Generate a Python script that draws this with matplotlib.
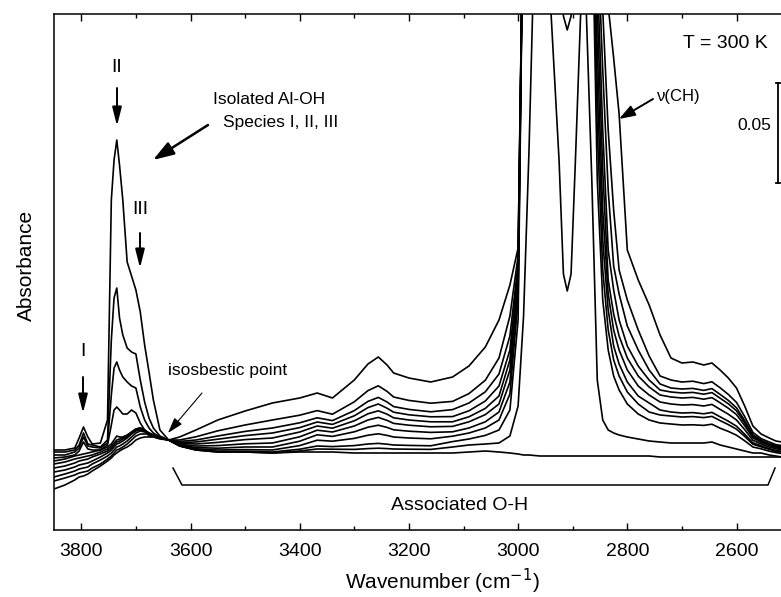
import numpy as np
import matplotlib
matplotlib.use("Agg")
import matplotlib.pyplot as plt
from matplotlib.ticker import MultipleLocator

plt.rcParams['font.family'] = ['Liberation Sans', 'DejaVu Sans']

# Shared wavenumber grid (cm-1)
wavenumber = [
    3850, 3830, 3812, 3804, 3796, 3788, 3780, 3765, 3752, 3745, 3740, 3735,
    3730, 3724, 3716, 3708, 3700, 3692, 3684, 3676, 3668, 3656, 3640,
    3620, 3590, 3550, 3500, 3450, 3400, 3368, 3340, 3300, 3275, 3256, 3240,
    3228, 3200, 3160, 3120, 3090, 3060, 3035, 3015,
    3000, 2990, 2980, 2960, 2940, 2925, 2917, 2910, 2903, 2895, 2880, 2865,
    2855, 2845, 2835, 2825, 2815,
    2800, 2780, 2760, 2740, 2720, 2700, 2680, 2660, 2645, 2630, 2615, 2600,
    2585, 2570, 2555, 2540, 2528, 2517,
]

# Spectra in milli-absorbance units (values above the frame are off scale)
spectrum_00 = [
    40, 40, 41, 46, 51.5, 46.5, 43, 43.5, 55, 165, 185, 195,
    182.5, 165, 134, 127, 120, 109, 92.5, 79, 65, 50, 45,
    42, 40, 39, 39, 38.5, 39, 39, 39, 38.5, 38.5, 38.5, 38.5,
    38.5, 38.5, 38.5, 38.5, 39, 39.5, 39, 38.5,
    38, 37.5, 37.5, 37, 37, 37, 37, 37, 37, 37, 37, 37,
    37, 37, 37, 37, 37,
    37, 37, 37, 36.5, 36.5, 36.5, 36.5, 36.5, 36.5, 36.5, 36.5, 36.5,
    36.5, 36.5, 36.5, 36.5, 36.5, 36.5,
]
spectrum_01 = [
    39, 39, 40, 42.5, 48.5, 43, 42.5, 41.5, 45, 95, 116, 121,
    106, 97.5, 91, 89, 88, 75, 64, 56, 51, 47, 45,
    42, 40, 39, 39, 38.5, 39.5, 40.5, 40.4, 40.3, 40.7, 40.9, 40.7,
    40.5, 40.4, 40.3, 41.5, 42.5, 43, 43.5, 47,
    62, 107, 190, 400, 260, 185, 128, 119.5, 128, 185, 300, 175,
    75, 55, 50, 48.5, 47.5,
    46.5, 45.5, 44.5, 44, 43.5, 43.5, 43.5, 43.5, 44, 42.5, 41.5, 40.5,
    39.5, 38.5, 38.5, 37.5, 37, 36.5,
]
spectrum_02 = [
    37.5, 37.5, 39, 41, 46.5, 42, 41.5, 41, 43.5, 67.5, 81, 84,
    80, 76.5, 74, 72, 71, 61.5, 55, 51, 48.5, 46.5, 45,
    42.1, 40.2, 39.3, 39.4, 39, 40.4, 42, 41.7, 42.2, 43, 43.3, 42.9,
    42.5, 42.3, 42.1, 44.2, 45.5, 47.3, 50, 60,
    105, 330, 420, 440, 420, 330, 257, 250, 257, 330, 420, 320,
    175, 115, 90, 77, 70,
    63, 58, 55, 53.5, 53, 52.5, 52.6, 52.3, 52.9, 50.9, 49.3, 47.4,
    44.6, 41.5, 40.6, 39.4, 38.7, 38.2,
]
spectrum_03 = [
    36, 36.5, 37.5, 39.5, 44, 40.5, 40, 40, 42.5, 52.5, 60, 61.5,
    60, 58, 58, 60, 58.5, 53.5, 50, 47, 46.5, 46, 45,
    42.3, 40.6, 40, 40.2, 40, 42.2, 44.9, 44.4, 45.8, 47.4, 48.1, 47.3,
    46.5, 46, 45.6, 46.9, 48.5, 51, 55, 68,
    115, 330, 440, 450, 450, 450, 450, 450, 450, 450, 450, 330,
    200, 130, 100, 85, 77,
    69, 63, 59, 57.5, 57, 56.5, 56.7, 56.2, 56.8, 54.7, 52.7, 50.4,
    46.8, 42.9, 41.6, 40.3, 39.4, 38.9,
]
spectrum_04 = [
    34.5, 35.5, 37, 37.5, 38, 38.5, 39, 40, 41.5, 43, 45, 47,
    46.5, 46.5, 47.5, 49, 50.5, 51, 50, 48, 47, 46, 45,
    42.5, 41.2, 40.9, 41.5, 41.5, 44.4, 47.6, 46.8, 49.1, 51.4, 52.4, 51.3,
    50.1, 49.4, 48.8, 49.1, 51, 54.1, 59, 74,
    120, 330, 450, 450, 450, 450, 450, 450, 450, 450, 450, 340,
    220, 145, 110, 92, 83,
    74, 67, 63.5, 60, 59, 58.5, 58.7, 58.1, 58.8, 56.6, 54.4, 51.9,
    47.9, 43.6, 42.1, 40.7, 39.8, 39.3,
]
spectrum_05 = [
    33, 34, 35.5, 36, 36.5, 37, 37.5, 39, 40.5, 42, 43.5, 45,
    45.5, 46, 47, 49, 50.5, 51, 50, 48, 47, 46, 45,
    42.9, 42, 42.2, 43.1, 43.5, 46.6, 49.9, 49, 52, 55, 56.3, 54.8,
    53.3, 52.4, 51.6, 51.8, 54.1, 57.7, 63, 80,
    124, 330, 450, 450, 450, 450, 450, 450, 450, 450, 450, 350,
    240, 160, 118, 100, 90,
    80, 72, 67.5, 64, 63, 62.5, 62.7, 62, 62.8, 60.3, 57.9, 55,
    50.2, 44.9, 43, 41.5, 40.6, 40.1,
]
spectrum_06 = [
    31, 32, 33.5, 34.5, 35, 35.5, 36.5, 38, 39.5, 41, 42.5, 44,
    44.5, 45.5, 46.5, 48.5, 50, 50.5, 50, 48.5, 47, 46, 45,
    43.4, 43, 43.8, 45.2, 46, 49, 52, 50.9, 54.6, 58.1, 59.6, 57.9,
    56.1, 55, 54.1, 54.1, 56.6, 60.8, 67, 85,
    127, 330, 450, 450, 450, 450, 450, 450, 450, 450, 450, 360,
    260, 180, 125, 108, 97,
    86, 77, 71.5, 67.5, 66.5, 66, 66.3, 65.4, 66.2, 63.6, 60.9, 57.7,
    52.2, 46.1, 43.8, 42.3, 41.2, 40.7,
]
spectrum_07 = [
    29, 30, 31.5, 32.5, 33, 33.5, 34.5, 36.5, 38.5, 40, 41.5, 43,
    43.5, 44.5, 46, 48, 49.5, 50, 49.5, 48.5, 47.5, 46, 45,
    43.8, 44, 45.4, 47.2, 48.5, 51.2, 54, 52.8, 57.1, 61.2, 63, 60.9,
    58.9, 57.6, 56.6, 56.7, 59.6, 64.5, 72, 90,
    130, 330, 450, 450, 450, 450, 450, 450, 450, 450, 450, 370,
    280, 200, 140, 120, 105,
    92, 82, 75, 70, 69, 68.5, 68.8, 67.9, 68.7, 65.9, 63.1, 59.6,
    53.6, 46.9, 44.4, 42.8, 41.7, 41.2,
]
spectrum_08 = [
    26.5, 28, 29.5, 30.5, 31, 31.5, 33, 35, 37, 38.5, 40, 41.5,
    42, 43, 44.5, 46.5, 48.5, 49.5, 49, 48.5, 47.5, 46, 45,
    44.3, 45, 47, 49.3, 51, 53.6, 56.1, 54.7, 59.7, 64.3, 66.3, 64,
    61.7, 60.3, 59.1, 60.2, 63.5, 69.1, 78, 97,
    133, 330, 450, 450, 450, 450, 450, 450, 450, 450, 450, 380,
    300, 230, 170, 132, 118,
    102, 90, 80, 73, 71, 70.5, 70.8, 69.8, 70.7, 67.8, 64.8, 61.1,
    54.7, 47.6, 44.9, 43.2, 42.1, 41.6,
]
spectrum_09 = [
    24.5, 26, 27.5, 28.5, 29, 29.5, 31, 33, 35.5, 37, 38.5, 40,
    40.5, 41.5, 43, 45, 47, 48, 48, 48, 47, 46, 45,
    45, 46.6, 49.6, 52.5, 55, 57.4, 59.7, 57.9, 64.1, 69.7, 72.1, 69.3,
    66.5, 64.8, 63.4, 64.3, 68.2, 74.9, 86, 107,
    137, 330, 450, 450, 450, 450, 450, 450, 450, 450, 450, 400,
    320, 260, 200, 160, 130,
    115, 100, 87, 77, 75, 74, 74.4, 73.2, 74.1, 71.1, 67.8, 63.8,
    56.7, 48.8, 45.7, 44, 42.7, 42.2,
]
spectrum_10 = [
    20.5, 22.5, 25, 26.5, 27, 28, 29.5, 32, 34.5, 36, 37.5, 38.5,
    39.5, 40.5, 41.5, 43, 45, 46, 46.5, 46.5, 46.5, 45.5, 45,
    46.5, 50, 55, 59.5, 63.5, 66, 68.5, 66, 75, 83, 86.5, 82.5,
    78.5, 76, 74, 76.5, 82, 91.5, 105, 122.5,
    141, 330, 450, 450, 450, 450, 450, 450, 450, 450, 450, 420,
    350, 300, 262, 236, 208,
    140, 125, 112.5, 97.5, 86, 83.5, 84, 82.5, 83.5, 80, 76, 71,
    62, 52, 48, 46, 44.5, 44,
]

spectra = [spectrum_00, spectrum_01, spectrum_02, spectrum_03, spectrum_04,
           spectrum_05, spectrum_06, spectrum_07, spectrum_08, spectrum_09,
           spectrum_10]

SCALE_BAR = 0.05  # absorbance units

W, H = 781, 597
fig = plt.figure(figsize=(W / 100, H / 100), dpi=100)
ax = fig.add_axes([54 / W, 1 - 530 / H, 727 / W, 516 / H])


def fpx(x, y):
    """Pixel position (from top-left) -> figure fraction."""
    return (x / W, 1 - y / H)


for s in spectra:
    ax.plot(wavenumber, np.asarray(s) / 1000.0, color='black', lw=1.2,
            solid_joinstyle='round')

ax.set_xlim(3850, 2518.5)
ax.set_ylim(0, 0.258)

ax.xaxis.set_major_locator(MultipleLocator(200))
ax.xaxis.set_minor_locator(MultipleLocator(100))
ax.tick_params(axis='x', which='both', direction='in', top=True,
               labelsize=14, pad=9, width=1.0)
ax.tick_params(axis='x', which='major', length=5)
ax.tick_params(axis='x', which='minor', length=3)
ax.set_yticks([])
ax.spines['right'].set_visible(False)
for sp in ('left', 'top', 'bottom'):
    ax.spines[sp].set_linewidth(1.1)

ax.set_xlabel('Wavenumber (cm$^{-1}$)', fontsize=15)
ax.xaxis.label.set_va('center')
ax.xaxis.set_label_coords((442 - 54) / 727, (530 - 581) / 516)
ax.set_ylabel('Absorbance', fontsize=15)
ax.yaxis.label.set_va('center')
ax.yaxis.set_label_coords((26 - 54) / 727, (530 - 265) / 516)


def label(text, x, y, size=14, ha='center'):
    fig.text(*fpx(x, y), text, fontsize=size, ha=ha, va='center')


def arrow(x0, y0, x1, y1, lw=1.4, hl=0.8, hw=0.2, ms=14):
    ax.annotate('', xy=fpx(x1, y1), xytext=fpx(x0, y0),
                xycoords='figure fraction', textcoords='figure fraction',
                arrowprops=dict(arrowstyle=f'-|>,head_length={hl},head_width={hw}',
                                color='black', lw=lw, mutation_scale=ms,
                                shrinkA=0, shrinkB=0))


# Band assignments
label('II', 117, 67)
arrow(117, 88, 117, 126)
label('III', 140, 210)
arrow(140, 233, 140, 268)
label('I', 83, 352)
arrow(83, 377, 83, 413)

label('Isolated Al-OH', 213, 100, size=12.5, ha='left')
label('Species I, II, III', 223, 122, size=12.5, ha='left')
arrow(208, 125, 153, 160, lw=1.8, hl=0.9, hw=0.3)

label('isosbestic point', 168, 371, size=12.5, ha='left')
arrow(202, 393, 168, 433, lw=0.8, hl=0.8, hw=0.25, ms=12)

label('\u03bd(CH)', 657, 97, size=12, ha='left')
arrow(653, 99, 619, 119, lw=1.4, hl=0.8, hw=0.28, ms=12)

label('T = 300 K', 683, 43, size=14, ha='left')

# Absorbance scale bar
bar_x = 2524
bar_y0 = 0.1735
ax.plot([bar_x, bar_x], [bar_y0, bar_y0 + SCALE_BAR], color='black', lw=1.3,
        clip_on=False)
for yy in (bar_y0, bar_y0 + SCALE_BAR):
    ax.plot([bar_x + 3, bar_x - 3], [yy, yy], color='black', lw=1.3,
            clip_on=False)
label('0.05', 754, 125, size=12.5)

# Bracket marking the associated O-H band
ax.plot([3632, 3615.6, 2542.3, 2529.5], [0.031, 0.0225, 0.0225, 0.031],
        color='black', lw=1.1)
label('Associated O-H', 460, 506, size=14)

fig.savefig('out.png', dpi=100)
